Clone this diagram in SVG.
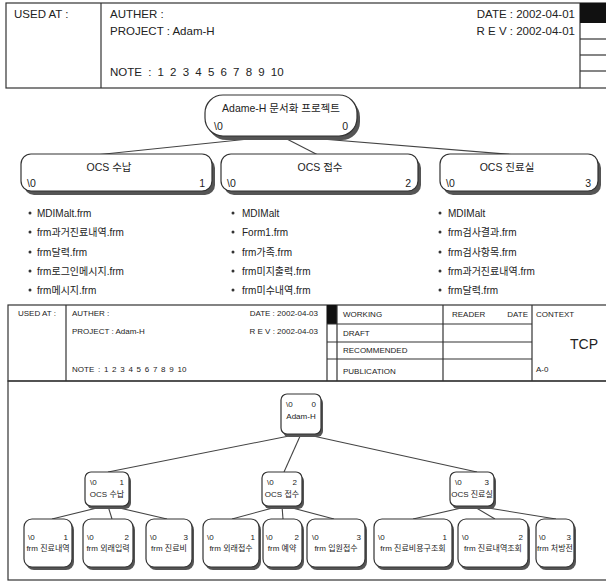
<svg xmlns="http://www.w3.org/2000/svg" width="606" height="584" viewBox="0 0 606 584">
<style>
text{font-family:"Liberation Sans","Noto Sans CJK KR",sans-serif;fill:#222}
.h1{font-size:11.5px}
.n{font-size:10.5px}
.h2{font-size:8px}
.li{font-size:10px}
.t{font-size:8px}
.frame{fill:none;stroke:#333;stroke-width:1.2}
.box{fill:#fff;stroke:#333;stroke-width:1.2}
.sh{fill:#555}
.con line{stroke:#444;stroke-width:1.1}
.m{text-anchor:middle}
.e{text-anchor:end}
</style>
<rect width="606" height="584" fill="#fff"/>
<g id="header1">
<rect class="frame" x="6" y="3" width="612" height="85"/>
<line class="frame" x1="101" y1="3" x2="101" y2="88"/>
<line class="frame" x1="580" y1="3" x2="580" y2="88"/>
<rect x="580" y="3" width="30" height="20" fill="#111"/>
<line class="frame" x1="580" y1="39" x2="606" y2="39"/>
<line class="frame" x1="580" y1="55" x2="606" y2="55"/>
<line class="frame" x1="580" y1="71" x2="606" y2="71"/>
<text class="h1" x="14" y="18">USED AT :</text>
<text class="h1" x="110" y="18">AUTHER :</text>
<text class="h1" x="110" y="35">PROJECT : Adam-H</text>
<text class="h1" x="110" y="76" word-spacing="3">NOTE : 1 2 3 4 5 6 7 8 9 10</text>
<text class="h1 e" x="575" y="18" font-size="11px">DATE : 2002-04-01</text>
<text class="h1 e" x="575" y="35" font-size="11px">R E V : 2002-04-01</text>
</g>
<g id="connectors-top" class="con">
<line x1="277" y1="136" x2="95" y2="155"/>
<line x1="281" y1="136" x2="318" y2="155"/>
<line x1="285" y1="136" x2="518" y2="155"/>
</g>
<g id="root">
<rect class="sh" x="208" y="99" width="152" height="41" rx="18"/>
<rect class="box" x="205" y="95" width="152" height="41" rx="18"/>
<text class="n m" x="281" y="112">Adame-H 문서화 프로젝트</text>
<text class="n" x="214" y="130">\0</text>
<text class="n e" x="348" y="130">0</text>
</g>
<g id="ocs1">
<rect class="sh" x="24" y="158" width="191" height="37" rx="10"/>
<rect class="box" x="21" y="154" width="191" height="37" rx="10"/>
<text class="n m" x="109" y="171">OCS 수납</text>
<text class="n" x="27" y="187">\0</text>
<text class="n e" x="205" y="187">1</text>
</g>
<g id="ocs2">
<rect class="sh" x="224" y="158" width="197" height="37" rx="10"/>
<rect class="box" x="221" y="154" width="197" height="37" rx="10"/>
<text class="n m" x="320" y="171">OCS 접수</text>
<text class="n" x="227" y="187">\0</text>
<text class="n e" x="411" y="187">2</text>
</g>
<g id="ocs3">
<rect class="sh" x="443" y="158" width="158" height="37" rx="10"/>
<rect class="box" x="440" y="154" width="158" height="37" rx="10"/>
<text class="n m" x="507" y="171">OCS 진료실</text>
<text class="n" x="446" y="187">\0</text>
<text class="n e" x="591" y="187">3</text>
</g>
<g id="list1">
<circle cx="30" cy="213" r="1.5" fill="#333"/><text class="li" x="37" y="217">MDIMalt.frm</text>
<circle cx="30" cy="232" r="1.5" fill="#333"/><text class="li" x="37" y="236">frm과거진료내역.frm</text>
<circle cx="30" cy="252" r="1.5" fill="#333"/><text class="li" x="37" y="256">frm달력.frm</text>
<circle cx="30" cy="271" r="1.5" fill="#333"/><text class="li" x="37" y="275">frm로그인메시지.frm</text>
<circle cx="30" cy="290" r="1.5" fill="#333"/><text class="li" x="37" y="294">frm메시지.frm</text>
</g>
<g id="list2">
<circle cx="233" cy="213" r="1.5" fill="#333"/><text class="li" x="242" y="217">MDIMalt</text>
<circle cx="233" cy="232" r="1.5" fill="#333"/><text class="li" x="242" y="236">Form1.frm</text>
<circle cx="233" cy="252" r="1.5" fill="#333"/><text class="li" x="242" y="256">frm가족.frm</text>
<circle cx="233" cy="271" r="1.5" fill="#333"/><text class="li" x="242" y="275">frm미지출력.frm</text>
<circle cx="233" cy="290" r="1.5" fill="#333"/><text class="li" x="242" y="294">frm미수내역.frm</text>
</g>
<g id="list3">
<circle cx="440" cy="213" r="1.5" fill="#333"/><text class="li" x="448" y="217">MDIMalt</text>
<circle cx="440" cy="232" r="1.5" fill="#333"/><text class="li" x="448" y="236">frm검사결과.frm</text>
<circle cx="440" cy="252" r="1.5" fill="#333"/><text class="li" x="448" y="256">frm검사항목.frm</text>
<circle cx="440" cy="271" r="1.5" fill="#333"/><text class="li" x="448" y="275">frm과거진료내역.frm</text>
<circle cx="440" cy="290" r="1.5" fill="#333"/><text class="li" x="448" y="294">frm달력.frm</text>
</g>
<g id="header2">
<rect class="frame" x="8" y="305" width="612" height="76"/>
<line class="frame" x1="66" y1="305" x2="66" y2="381"/>
<line class="frame" x1="327" y1="305" x2="327" y2="381"/>
<rect x="327" y="305" width="10" height="19" fill="#111"/>
<line class="frame" x1="337" y1="305" x2="337" y2="381"/>
<line class="frame" x1="443" y1="305" x2="443" y2="381"/>
<line class="frame" x1="532" y1="305" x2="532" y2="381"/>
<line class="frame" x1="327" y1="324" x2="532" y2="324"/>
<line class="frame" x1="327" y1="342" x2="532" y2="342"/>
<line class="frame" x1="327" y1="359" x2="532" y2="359"/>
<text class="h2" x="18" y="316">USED AT :</text>
<text class="h2" x="72" y="316">AUTHER :</text>
<text class="h2" x="72" y="334">PROJECT : Adam-H</text>
<text class="h2" x="72" y="372" word-spacing="1.5">NOTE : 1 2 3 4 5 6 7 8 9 10</text>
<text class="h2 e" x="318" y="316">DATE : 2002-04-03</text>
<text class="h2 e" x="318" y="334">R E V : 2002-04-03</text>
<text class="h2" x="343" y="317">WORKING</text>
<text class="h2" x="343" y="336">DRAFT</text>
<text class="h2" x="343" y="353">RECOMMENDED</text>
<text class="h2" x="343" y="374">PUBLICATION</text>
<text class="h2" x="452" y="317">READER</text>
<text class="h2 e" x="528" y="317">DATE</text>
<text class="h2" x="536" y="317">CONTEXT</text>
<text x="584" y="349" class="m" font-size="14">TCP</text>
<text class="h2" x="536" y="372">A-0</text>
</g>
<g id="frame-bottom">
<rect class="frame" x="8" y="381" width="612" height="199"/>
</g>
<g id="connectors-bottom" class="con">
<line x1="299" y1="434" x2="108" y2="472"/>
<line x1="301" y1="434" x2="284" y2="472"/>
<line x1="304" y1="434" x2="477" y2="472"/>
<line x1="105" y1="506" x2="52" y2="519"/>
<line x1="108" y1="506" x2="112" y2="519"/>
<line x1="111" y1="506" x2="167" y2="519"/>
<line x1="280" y1="506" x2="232" y2="519"/>
<line x1="282" y1="506" x2="283" y2="519"/>
<line x1="285" y1="506" x2="334" y2="519"/>
<line x1="470" y1="506" x2="413" y2="519"/>
<line x1="473" y1="506" x2="495" y2="519"/>
<line x1="476" y1="506" x2="556" y2="519"/>
</g>
<g id="b-root">
<rect class="sh" x="283" y="397" width="40" height="40" rx="6"/>
<rect class="box" x="281" y="394" width="40" height="40" rx="6"/>
<text class="t" x="286" y="407">\0</text><text class="t e" x="316" y="407">0</text>
<text class="t m" x="301" y="419">Adam-H</text>
</g>
<g id="b-m1">
<rect class="sh" x="87" y="475" width="44" height="34" rx="6"/>
<rect class="box" x="85" y="472" width="44" height="34" rx="6"/>
<text class="t" x="90" y="485">\0</text><text class="t e" x="124" y="485">1</text>
<text class="t m" x="107" y="497">OCS 수납</text>
</g>
<g id="b-m2">
<rect class="sh" x="264" y="475" width="40" height="34" rx="6"/>
<rect class="box" x="262" y="472" width="40" height="34" rx="6"/>
<text class="t" x="267" y="485">\0</text><text class="t e" x="297" y="485">2</text>
<text class="t m" x="282" y="497">OCS 접수</text>
</g>
<g id="b-m3">
<rect class="sh" x="452" y="475" width="44" height="34" rx="6"/>
<rect class="box" x="450" y="472" width="44" height="34" rx="6"/>
<text class="t" x="455" y="485">\0</text><text class="t e" x="489" y="485">3</text>
<text class="t m" x="472" y="497">OCS 진료실</text>
</g>
<g id="leaf1">
<rect class="sh" x="26" y="522" width="48" height="48" rx="8"/>
<rect class="box" x="24" y="519" width="48" height="48" rx="8"/>
<text class="t" x="28" y="540">\0</text><text class="t e" x="68" y="540">1</text>
<text class="t m" x="48" y="551">frm 진료내역</text>
</g>
<g id="leaf2">
<rect class="sh" x="85" y="522" width="50" height="48" rx="8"/>
<rect class="box" x="83" y="519" width="50" height="48" rx="8"/>
<text class="t" x="87" y="540">\0</text><text class="t e" x="129" y="540">2</text>
<text class="t m" x="108" y="551">frm 외래입력</text>
</g>
<g id="leaf3">
<rect class="sh" x="148" y="522" width="46" height="48" rx="8"/>
<rect class="box" x="146" y="519" width="46" height="48" rx="8"/>
<text class="t" x="150" y="540">\0</text><text class="t e" x="188" y="540">3</text>
<text class="t m" x="169" y="551">frm 진료비</text>
</g>
<g id="leaf4">
<rect class="sh" x="205" y="522" width="56" height="48" rx="8"/>
<rect class="box" x="203" y="519" width="56" height="48" rx="8"/>
<text class="t" x="207" y="540">\0</text><text class="t e" x="255" y="540">1</text>
<text class="t m" x="231" y="551">frm 외래접수</text>
</g>
<g id="leaf5">
<rect class="sh" x="265" y="522" width="39" height="48" rx="8"/>
<rect class="box" x="263" y="519" width="39" height="48" rx="8"/>
<text class="t" x="266" y="540">\0</text><text class="t e" x="299" y="540">2</text>
<text class="t m" x="282" y="551">frm 예약</text>
</g>
<g id="leaf6">
<rect class="sh" x="309" y="522" width="58" height="48" rx="8"/>
<rect class="box" x="307" y="519" width="58" height="48" rx="8"/>
<text class="t" x="312" y="540">\0</text><text class="t e" x="361" y="540">3</text>
<text class="t m" x="336" y="551">frm 입원접수</text>
</g>
<g id="leaf7">
<rect class="sh" x="376" y="522" width="78" height="48" rx="8"/>
<rect class="box" x="374" y="519" width="78" height="48" rx="8"/>
<text class="t" x="378" y="540">\0</text><text class="t e" x="447" y="540">1</text>
<text class="t m" x="413" y="551">frm 진료비용구조회</text>
</g>
<g id="leaf8">
<rect class="sh" x="460" y="522" width="70" height="48" rx="8"/>
<rect class="box" x="458" y="519" width="70" height="48" rx="8"/>
<text class="t" x="462" y="540">\0</text><text class="t e" x="523" y="540">2</text>
<text class="t m" x="493" y="551">frm 진료내역조회</text>
</g>
<g id="leaf9">
<rect class="sh" x="538" y="522" width="38" height="48" rx="8"/>
<rect class="box" x="536" y="519" width="38" height="48" rx="8"/>
<text class="t" x="539" y="540">\0</text><text class="t e" x="571" y="540">3</text>
<text class="t m" x="555" y="551">frm 처방전</text>
</g>
</svg>
